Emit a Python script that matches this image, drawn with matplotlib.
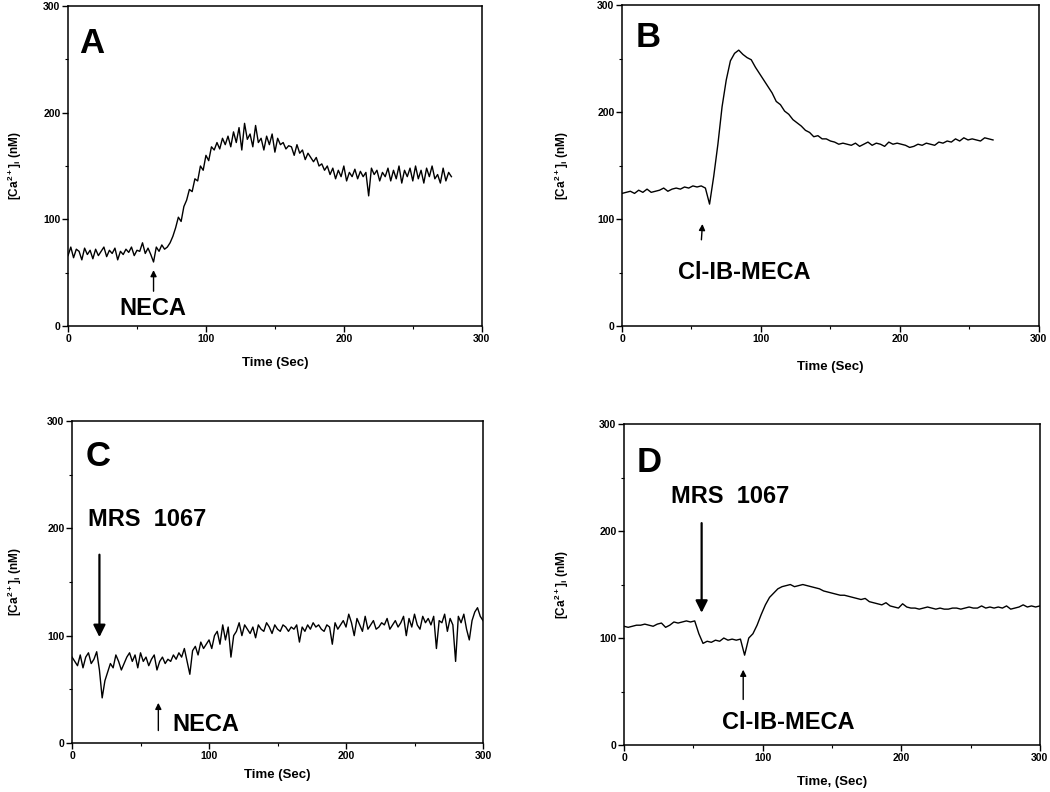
import numpy as np
import matplotlib
matplotlib.use("Agg")
import matplotlib.pyplot as plt
from matplotlib.ticker import MultipleLocator

plt.rcParams['font.family'] = ['Liberation Sans', 'DejaVu Sans']
plt.rcParams['font.weight'] = 'bold'
plt.rcParams['mathtext.fontset'] = 'custom'
plt.rcParams['mathtext.bf'] = 'Liberation Sans:bold'
plt.rcParams['mathtext.rm'] = 'Liberation Sans:bold'
plt.rcParams['mathtext.default'] = 'bf'

# --- data ---
# A: NECA alone, sampled every 2 s
time_a = np.arange(0, 280, 2)
ca_a = [66, 74, 64, 72, 70, 62, 73, 67, 71, 63, 72, 66, 70, 74, 65, 71, 68, 73, 62, 70,
        67, 72, 69, 74, 66, 71, 70, 78, 68, 73, 67, 60, 74,
        70, 76, 72, 74, 78, 84, 92, 102, 98, 112, 118, 128, 126, 138, 136, 150, 146,
        160, 155, 168, 165, 172, 166, 176, 170, 178, 168, 182, 172, 186, 165, 190, 175,
        180, 168, 188, 172, 176, 165, 178, 170, 180, 163, 176, 170, 172, 166, 169, 168,
        160, 170, 162, 165, 156, 162, 158, 154, 158, 150, 152, 146, 150, 142,
        148, 138, 146, 140, 150, 136, 144, 140, 147, 138, 145, 140, 144, 122, 148, 142,
        146, 136, 144, 140, 148, 136, 146, 138, 150, 134, 146, 140, 148, 136, 150, 138,
        146, 134, 148, 140, 150, 138, 142, 134, 148, 136, 144, 140]

# B: Cl-IB-MECA alone, sampled every 3 s
time_b = np.arange(0, 270, 3)
ca_b = [124, 125, 126, 124, 127, 125, 128, 125, 126, 127, 129, 126, 128, 129, 128, 130,
        129, 131, 130, 131,
        129, 114, 140, 170, 205, 230, 248, 255, 258, 254, 251, 249, 242, 236, 230, 224,
        218, 210, 207, 201, 198, 193, 190, 187, 183, 181, 177, 178, 175, 175, 173, 172,
        170, 171,
        170, 169, 171, 168, 170, 172, 169, 171, 170, 168, 172, 170, 171, 170, 169, 167,
        168, 170, 169, 171, 170, 169, 172, 171, 173, 172, 175, 173, 176, 174, 175, 174,
        173, 176, 175, 174]

# C: MRS 1067 then NECA, sampled every 2 s
time_c = np.arange(0, 301, 2)
ca_c = [80, 76, 72, 82, 70, 80, 84, 74, 78, 85,
        68, 42, 58, 66, 74, 70, 82, 76, 68, 74,
        80, 84, 76, 82, 70, 84, 76, 80, 72, 78,
        82, 68, 76, 80, 74, 78, 76, 82, 78, 84,
        80, 88, 76, 64, 86, 90, 82, 94, 88, 92,
        96, 88, 100, 104, 92, 110, 96, 108, 80, 100,
        104, 112, 100, 110, 106, 102, 108, 98, 110, 106,
        104, 112, 108, 102, 110, 106, 104, 110, 108, 104,
        108, 106, 110, 94, 108, 104, 110, 106, 112, 108,
        110, 106, 104, 110, 108, 92, 112, 106, 110, 114,
        108, 120, 112, 100, 116, 110, 104, 118, 106, 110,
        114, 106, 108, 112, 110, 116, 106, 110, 114, 108,
        112, 118, 100, 116, 108, 120, 110, 106, 118, 112,
        116, 110, 118, 88, 114, 112, 120, 104, 116, 110,
        76, 118, 112, 120, 106, 96, 114, 122, 126, 118, 114]

# D: MRS 1067 then Cl-IB-MECA, sampled every 3 s
time_d = np.arange(0, 301, 3)
ca_d = [111, 110, 111, 112, 112, 113, 112, 111, 113, 114,
        110, 112, 115, 114, 115, 116, 115, 116, 104, 95,
        97, 96, 98, 97, 100, 98, 99, 98, 99, 84,
        100, 104, 112, 122, 131, 138, 142, 146, 148, 149,
        150, 148, 149, 150, 149, 148, 147, 146, 144, 143,
        142, 141, 140, 140, 139, 138, 137, 136, 137, 134,
        133, 132, 131, 133, 130, 129, 128, 132, 129, 128,
        128, 127, 128, 129, 128, 127, 128, 127, 127, 128,
        128, 127, 128, 129, 128, 128, 130, 128, 129, 128,
        129, 128, 130, 127, 128, 129, 131, 129, 130, 129, 130]

panel_letters = ['A', 'B', 'C', 'D']
xlabels = ['Time (Sec)', 'Time (Sec)', 'Time (Sec)', 'Time, (Sec)']
ylabel = r'[Ca$^{2+}$]$_i$ (nM)'

fig = plt.figure(figsize=(10.5, 7.92), dpi=100)

rects = [[0.0648, 0.5884, 0.394, 0.404],
         [0.5924, 0.5884, 0.397, 0.405],
         [0.0686, 0.0619, 0.3914, 0.4066],
         [0.5943, 0.0593, 0.396, 0.4053]]
ylab_x = [-0.128, -0.144, -0.139, -0.149]
xlab_y = [-0.116, -0.128, -0.100, -0.115]

series = [(time_a, ca_a), (time_b, ca_b), (time_c, ca_c), (time_d, ca_d)]

axes = []
for i, rect in enumerate(rects):
    ax = fig.add_axes(rect)
    t, ca = series[i]
    ax.plot(t, ca, color='black', lw=1.0)
    ax.set_xlim(0, 300)
    ax.set_ylim(0, 300)
    ax.xaxis.set_major_locator(MultipleLocator(100))
    ax.yaxis.set_major_locator(MultipleLocator(100))
    ax.xaxis.set_minor_locator(MultipleLocator(50))
    ax.yaxis.set_minor_locator(MultipleLocator(50))
    ax.tick_params(which='major', direction='out', length=4, width=1,
                   labelsize=7.5, pad=1.5)
    ax.tick_params(which='minor', direction='out', length=2, width=0.8)
    for lab in ax.get_xticklabels() + ax.get_yticklabels():
        lab.set_fontweight('bold')
    for sp in ax.spines.values():
        sp.set_linewidth(1.1)
    ax.set_ylabel(ylabel, fontsize=8.5, fontweight='bold', va='center')
    ax.yaxis.set_label_coords(ylab_x[i], 0.5)
    ax.set_xlabel(xlabels[i], fontsize=9.5, fontweight='bold', va='center')
    ax.xaxis.set_label_coords(0.5, xlab_y[i])
    axes.append(ax)

letter_pos = [(8, 265), (10, 270), (10, 267), (9, 264)]
for ax, letter, pos in zip(axes, panel_letters, letter_pos):
    ax.text(pos[0], pos[1], letter, fontsize=25, fontweight='bold', va='center', ha='left')

small_arrow = dict(arrowstyle='-|>', color='black', lw=1.0, mutation_scale=9)
big_arrow = dict(arrowstyle='-|>', color='black', lw=1.6, mutation_scale=18)

ax_a, ax_b, ax_c, ax_d = axes
ax_a.text(37, 16, 'NECA', fontsize=17, fontweight='bold', va='center')
ax_a.annotate('', xy=(62, 55), xytext=(62, 30), arrowprops=small_arrow)

ax_b.text(40, 50, 'Cl-IB-MECA', fontsize=17, fontweight='bold', va='center')
ax_b.annotate('', xy=(58, 98), xytext=(57, 78), arrowprops=small_arrow)

ax_c.text(12, 208, 'MRS  1067', fontsize=17, fontweight='bold', va='center')
ax_c.annotate('', xy=(20, 96), xytext=(20, 178), arrowprops=big_arrow)
ax_c.text(73, 17, 'NECA', fontsize=17, fontweight='bold', va='center')
ax_c.annotate('', xy=(63, 40), xytext=(63, 9), arrowprops=small_arrow)

ax_d.text(34, 232, 'MRS  1067', fontsize=17, fontweight='bold', va='center')
ax_d.annotate('', xy=(56, 121), xytext=(56, 210), arrowprops=big_arrow)
ax_d.text(71, 21, 'Cl-IB-MECA', fontsize=17, fontweight='bold', va='center')
ax_d.annotate('', xy=(86, 73), xytext=(86, 40), arrowprops=small_arrow)

fig.savefig('out.png', dpi=100)
